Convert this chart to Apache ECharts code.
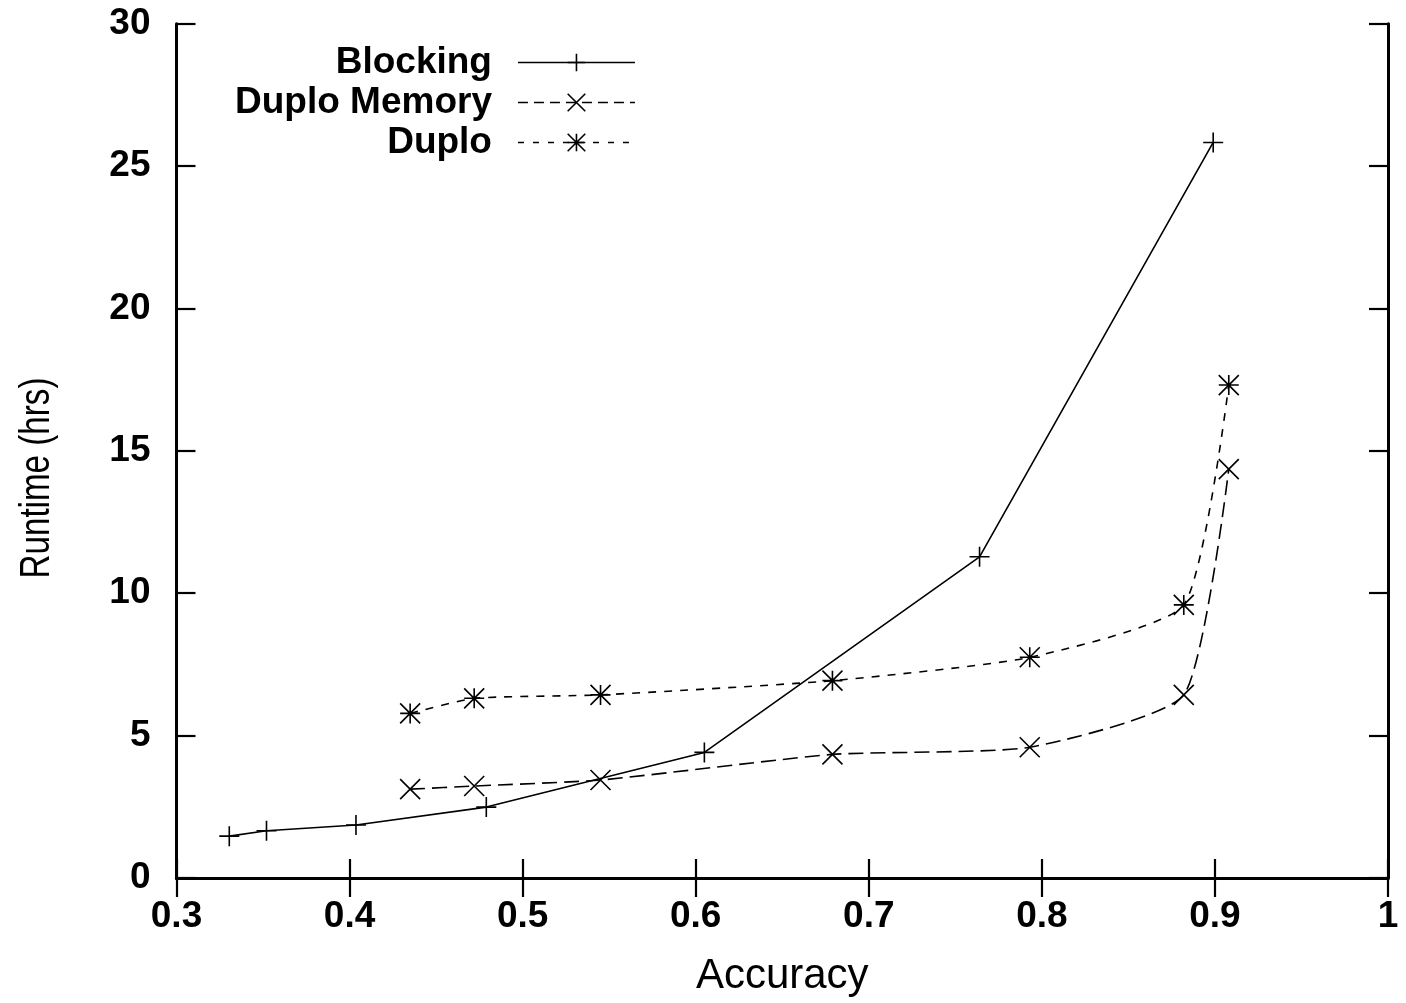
<!DOCTYPE html>
<html>
<head>
<meta charset="utf-8">
<script src="https://cdn.jsdelivr.net/npm/echarts@6/dist/echarts.min.js"></script>
<style>
  html, body { margin: 0; padding: 0; background: #fff; }
  #chart { width: 1406px; height: 1003px; }
</style>
</head>
<body>
<div id="chart"></div>
<script>
// Runtime versus accuracy for the three approaches
const blockingAcc = [0.3305, 0.352, 0.4037, 0.479, 0.605, 0.764, 0.899];
const blockingHrs = [1.47, 1.66, 1.86, 2.49, 4.41, 11.28, 25.83];

const memoryAcc = [0.435, 0.472, 0.545, 0.679, 0.793, 0.882, 0.908];
const memoryHrs = [3.12, 3.23, 3.44, 4.34, 4.59, 6.43, 14.36];

const duploAcc = [0.435, 0.472, 0.545, 0.679, 0.793, 0.882, 0.908];
const duploHrs = [5.78, 6.31, 6.43, 6.93, 7.75, 9.59, 17.31];

const seriesNames = ['Blocking', 'Duplo Memory', 'Duplo'];
const xTicks = { min: 0.3, max: 1, step: 0.1 };
const yTicks = { min: 0, max: 30, step: 5 };
const xTitle = 'Accuracy';
const yTitle = 'Runtime (hrs)';

const pairs = (xs, ys) => xs.map((x, i) => [x, ys[i]]);

const PLUS = 'path://M0,10L20,10M10,0L10,20';
const CROSS = 'path://M0,0L20,20M20,0L0,20';
const STAR = 'path://M0,10L20,10M10,0L10,20M0,0L20,20M20,0L0,20';

const ink = '#000';
const tickFont = { fontFamily: 'Liberation Sans', fontWeight: 'bold', fontSize: 37, color: ink };
const titleFont = { fontFamily: 'Liberation Sans', fontSize: 42, color: ink };

const frameAxis = (extra) => Object.assign({
  type: 'value',
  axisLine: { show: true, lineStyle: { color: ink, width: 3 } },
  axisTick: { show: true, inside: true, length: 19, lineStyle: { color: ink, width: 2.2 } },
  splitLine: { show: false }
}, extra);

const markerStyle = { color: ink, borderColor: ink, borderWidth: 1.6 };
const legendMarker = { color: 'none', borderColor: ink, borderWidth: 1.6 };

const chart = echarts.init(document.getElementById('chart'));
chart.setOption({
  animation: false,
  backgroundColor: '#fff',
  grid: { left: 176.5, right: 18, top: 23.7, bottom: 125, containLabel: false },
  legend: {
    orient: 'vertical',
    align: 'right',
    left: 235,
    top: 44,
    padding: 0,
    itemGap: 3,
    itemWidth: 117,
    itemHeight: 22,
    textStyle: { fontFamily: 'Liberation Sans', fontWeight: 'bold', fontSize: 37, color: ink, padding: [0, 21, 0, 0] },
    data: [
      { name: seriesNames[0], itemStyle: legendMarker,
        lineStyle: { color: ink, width: 1.6, type: 'solid' } },
      { name: seriesNames[1], itemStyle: legendMarker,
        lineStyle: { color: ink, width: 1.6, type: [10, 6] } },
      { name: seriesNames[2], itemStyle: legendMarker,
        lineStyle: { color: ink, width: 1.6, type: [6, 9] } }
    ]
  },
  graphic: [
    {
      // vertical axis title, condensed along its length
      type: 'text',
      x: 37, y: 478,
      rotation: Math.PI / 2,
      scaleX: 0.79,
      style: {
        text: yTitle,
        fontFamily: 'Liberation Sans', fontSize: 42, fill: ink,
        textAlign: 'center', textVerticalAlign: 'middle'
      }
    }
  ],
  xAxis: [
    frameAxis({
      min: xTicks.min, max: xTicks.max, interval: xTicks.step,
      position: 'bottom',
      name: xTitle, nameLocation: 'middle', nameGap: 77,
      nameTextStyle: titleFont,
      axisLabel: Object.assign({ margin: 20 }, tickFont)
    }),
    frameAxis({
      min: xTicks.min, max: xTicks.max, interval: xTicks.step,
      position: 'top',
      axisLabel: { show: false }
    })
  ],
  yAxis: [
    frameAxis({
      min: yTicks.min, max: yTicks.max, interval: yTicks.step,
      position: 'left',
      axisLabel: Object.assign({ margin: 26 }, tickFont)
    }),
    frameAxis({
      min: yTicks.min, max: yTicks.max, interval: yTicks.step,
      position: 'right',
      axisLabel: { show: false }
    })
  ],
  series: [
    {
      name: seriesNames[0], type: 'line',
      data: pairs(blockingAcc, blockingHrs),
      symbol: PLUS, symbolSize: 20,
      itemStyle: markerStyle,
      lineStyle: { color: ink, width: 1.6, type: 'solid' }
    },
    {
      name: seriesNames[1], type: 'line',
      data: pairs(memoryAcc, memoryHrs),
      symbol: CROSS, symbolSize: 20,
      smooth: 0.18,
      itemStyle: markerStyle,
      lineStyle: { color: ink, width: 1.6, type: [15, 7] }
    },
    {
      name: seriesNames[2], type: 'line',
      data: pairs(duploAcc, duploHrs),
      symbol: STAR, symbolSize: 20,
      smooth: 0.18,
      itemStyle: markerStyle,
      lineStyle: { color: ink, width: 1.6, type: [8, 8] }
    }
  ]
});
</script>
</body>
</html>
